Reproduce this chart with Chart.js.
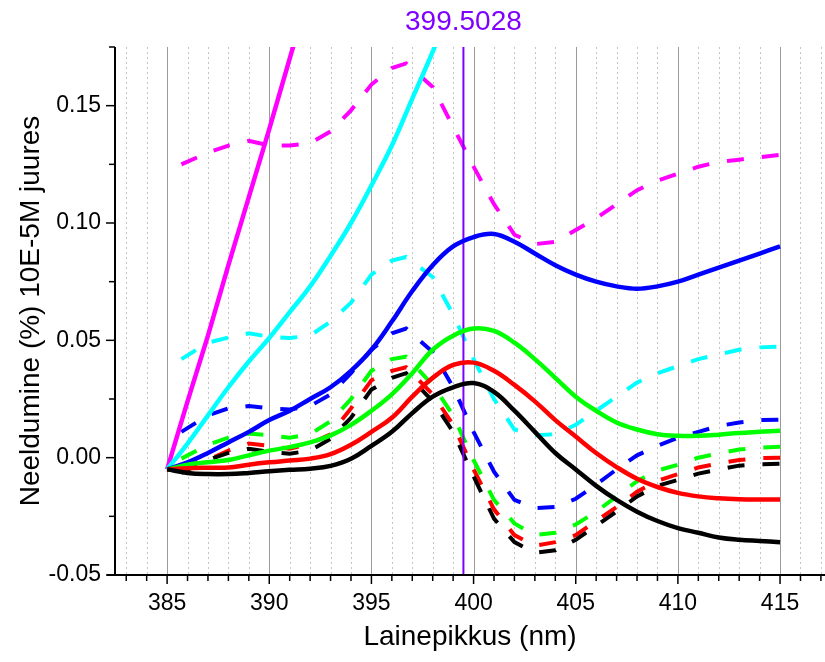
<!DOCTYPE html>
<html>
<head>
<meta charset="utf-8">
<script src="https://cdn.jsdelivr.net/npm/chart.js@4.4.0/dist/chart.umd.min.js"></script>
<style>
    body { margin: 0; background: #fff; }
    #wrap { width: 825px; height: 662px; position: relative; }
</style>
</head>
<body>
<div id="wrap"><canvas id="absChart"></canvas></div>
<script>
// Wavelengths (nm) for the smooth (solid) curves
const wlSolid = [385, 386, 387, 388, 389, 390, 391, 392, 393, 394, 395, 396, 397, 398, 399, 400,
    401, 402, 403, 404, 405, 406, 407, 408, 409, 410, 411, 412, 413, 414, 415];
// Wavelengths (nm) for the dashed curves
const wlDash = [385.7, 387, 388, 389, 390, 391, 392, 393, 394, 395, 396, 396.7, 398, 399, 400,
    401, 402, 403, 404, 405, 406, 407, 408, 409, 410, 411, 412, 413, 414, 415];

// Solid series
const magentaSolid = [-0.005, 0.024, 0.052, 0.082, 0.111, 0.140, 0.170, 0.200, 0.230];
const cyanSolid = [-0.005, 0.006, 0.018, 0.030, 0.041, 0.051, 0.062, 0.073, 0.086, 0.100, 0.116,
    0.133, 0.153, 0.173, 0.195, 0.220];
const blueSolid = [-0.005, -0.002, 0.002, 0.0065, 0.011, 0.016, 0.020, 0.025, 0.030, 0.037, 0.046,
    0.058, 0.071, 0.082, 0.090, 0.094, 0.0953, 0.092, 0.087, 0.082, 0.078, 0.075, 0.073, 0.072,
    0.073, 0.075, 0.078, 0.081, 0.084, 0.087, 0.090];
const greenSolid = [-0.005, -0.003, -0.002, -0.001, 0.001, 0.003, 0.0045, 0.0065, 0.0095, 0.014, 0.020,
    0.027, 0.036, 0.046, 0.052, 0.055, 0.054, 0.049, 0.042, 0.034, 0.026, 0.020, 0.015, 0.012,
    0.010, 0.0093, 0.0093, 0.0098, 0.0105, 0.011, 0.0115];
const redSolid = [-0.005, -0.0045, -0.0043, -0.0042, -0.003, -0.002, -0.0012, -0.0004, 0.0015, 0.0055, 0.011,
    0.017, 0.026, 0.034, 0.0395, 0.0405, 0.037, 0.031, 0.024, 0.016, 0.009, 0.002, -0.004, -0.009,
    -0.0125, -0.015, -0.0165, -0.0173, -0.0177, -0.0178, -0.0178];
const blackSolid = [-0.005, -0.0065, -0.007, -0.007, -0.0065, -0.0058, -0.0052, -0.0047, -0.0035, -0.0005, 0.005,
    0.011, 0.019, 0.026, 0.030, 0.0318, 0.028, 0.020, 0.011, 0.002, -0.005, -0.012, -0.018, -0.023,
    -0.027, -0.030, -0.032, -0.034, -0.035, -0.0355, -0.036];

// Dashed series
const magentaDash = [0.125, 0.130, 0.133, 0.135, 0.133, 0.133, 0.134, 0.139, 0.148, 0.159, 0.166, 0.168,
    0.158, 0.141, 0.124, 0.108, 0.095, 0.091, 0.092, 0.097, 0.102, 0.108, 0.114, 0.118, 0.121,
    0.124, 0.126, 0.127, 0.128, 0.129];
const cyanDash = [0.042, 0.049, 0.0512, 0.053, 0.0515, 0.051, 0.052, 0.058, 0.066, 0.078, 0.084, 0.0855,
    0.077, 0.061, 0.042, 0.025, 0.012, 0.0095, 0.010, 0.014, 0.020, 0.026, 0.032, 0.036, 0.039,
    0.042, 0.044, 0.046, 0.047, 0.0473];
const blueDash = [0.011, 0.018, 0.021, 0.022, 0.021, 0.0205, 0.022, 0.027, 0.036, 0.046, 0.053, 0.055,
    0.045, 0.030, 0.011, -0.006, -0.018, -0.0215, -0.021, -0.0175, -0.0115, -0.005, 0.001, 0.005, 0.0085,
    0.011, 0.0135, 0.015, 0.016, 0.0162];
const greenDash = [-0.0004, 0.0055, 0.0085, 0.0103, 0.0095, 0.0085, 0.010, 0.0155, 0.025, 0.037, 0.042, 0.043,
    0.031, 0.018, -0.001, -0.018, -0.028, -0.033, -0.032, -0.0285, -0.023, -0.0165, -0.010, -0.0055, -0.003,
    0.0, 0.0018, 0.0035, 0.0042, 0.0047];
const redDash = [-0.004, -0.001, 0.003, 0.006, 0.005, 0.0038, 0.006, 0.010, 0.021, 0.033, 0.037, 0.0385,
    0.027, 0.014, -0.005, -0.022, -0.033, -0.0375, -0.036, -0.033, -0.027, -0.021, -0.0145, -0.0098, -0.007,
    -0.0042, -0.0025, -0.001, -0.0002, 0.0];
const blackDash = [-0.0065, -0.001, 0.002, 0.0038, 0.0025, 0.0017, 0.003, 0.008, 0.017, 0.029, 0.034, 0.036,
    0.024, 0.011, -0.008, -0.026, -0.036, -0.0405, -0.0395, -0.035, -0.029, -0.023, -0.0165, -0.012, -0.0095,
    -0.0068, -0.005, -0.0034, -0.0028, -0.0026];

// Marker line
const markerWl = 399.5028;
const markerLabel = '399.5028';

const FONT = "'Liberation Sans', Arial, sans-serif";

function pts(xs, ys) {
    return ys.map((y, i) => ({ x: xs[i], y: y }));
}

function solid(color, ys) {
    return { data: pts(wlSolid, ys), borderColor: color, borderWidth: 4.5, tension: 0.4 };
}

function dashed(color, ys) {
    return { data: pts(wlDash, ys), borderColor: color, borderWidth: 4, borderDash: [17, 18], tension: 0 };
}

// Grid lines, tick marks and axis lines drawn by hand (major/minor styles differ)
const axesPlugin = {
    id: 'axesPlugin',
    beforeDatasetsDraw(chart) {
        const { ctx, chartArea, scales } = chart;
        const xs = scales.x;
        ctx.save();
        ctx.lineWidth = 1;
        for (let v = Math.ceil(xs.min); v <= xs.max; v++) {
            const px = Math.round(xs.getPixelForValue(v)) + 0.5;
            if (v % 5 === 0) {
                ctx.strokeStyle = '#9a9a9a';
                ctx.setLineDash([]);
            } else {
                ctx.strokeStyle = '#c4c4c4';
                ctx.setLineDash([2, 3]);
            }
            ctx.beginPath();
            ctx.moveTo(px, chartArea.top);
            ctx.lineTo(px, chartArea.bottom);
            ctx.stroke();
        }
        ctx.restore();
    },
    afterDraw(chart) {
        const { ctx, chartArea, scales } = chart;
        const xs = scales.x, ys = scales.y;
        ctx.save();
        ctx.strokeStyle = '#000';
        ctx.lineWidth = 1.5;
        ctx.setLineDash([]);
        // x ticks
        for (let v = Math.ceil(xs.min); v <= xs.max; v++) {
            const px = xs.getPixelForValue(v);
            const len = v % 5 === 0 ? 9 : 6;
            ctx.beginPath();
            ctx.moveTo(px, chartArea.bottom);
            ctx.lineTo(px, chartArea.bottom + len);
            ctx.stroke();
        }
        // y ticks
        for (let k = 0; k <= 9; k++) {
            const v = -0.05 + k * 0.025;
            const py = ys.getPixelForValue(v);
            const len = k % 2 === 0 ? 9 : 6;
            ctx.beginPath();
            ctx.moveTo(chartArea.left, py);
            ctx.lineTo(chartArea.left - len, py);
            ctx.stroke();
        }
        // axis lines
        ctx.lineWidth = 2;
        ctx.beginPath();
        ctx.moveTo(chartArea.left, chartArea.top);
        ctx.lineTo(chartArea.left, chartArea.bottom);
        ctx.moveTo(chartArea.left - 8, chartArea.bottom);
        ctx.lineTo(chart.width, chartArea.bottom);
        ctx.stroke();
        // marker label
        ctx.fillStyle = '#8000ff';
        ctx.font = '28px ' + FONT;
        ctx.textAlign = 'center';
        ctx.textBaseline = 'middle';
        ctx.fillText(markerLabel, xs.getPixelForValue(markerWl), 22);
        ctx.restore();
    }
};

const datasets = [
    solid('#000000', blackSolid),
    solid('#ff0000', redSolid),
    solid('#00ff00', greenSolid),
    solid('#0000ff', blueSolid),
    solid('#00ffff', cyanSolid),
    { data: pts(wlSolid, magentaSolid), borderColor: '#ff00ff', borderWidth: 4.5, tension: 0 },
    { data: [{ x: markerWl, y: -0.05 }, { x: markerWl, y: 0.175 }], borderColor: '#8000ff', borderWidth: 2 },
    dashed('#000000', blackDash),
    dashed('#ff0000', redDash),
    dashed('#00ff00', greenDash),
    dashed('#0000ff', blueDash),
    dashed('#00ffff', cyanDash),
    dashed('#ff00ff', magentaDash)
];

new Chart(document.getElementById('absChart'), {
    type: 'line',
    data: { datasets: datasets },
    options: {
        responsive: true,
        maintainAspectRatio: false,
        animation: false,
        layout: { padding: { top: 47, right: 0, bottom: 0, left: 0 } },
        elements: { point: { radius: 0 }, line: { fill: false } },
        plugins: { legend: { display: false }, tooltip: { enabled: false } },
        scales: {
            x: {
                type: 'linear',
                min: 382.45,
                max: 417.2,
                grid: { display: false, drawTicks: false },
                border: { display: false },
                ticks: {
                    stepSize: 1,
                    autoSkip: false,
                    maxRotation: 0,
                    includeBounds: false,
                    padding: 15,
                    color: '#000',
                    font: { family: FONT, size: 23 },
                    callback: v => (Math.abs(v % 5) < 1e-6 ? String(v) : '')
                },
                title: {
                    display: true,
                    text: 'Lainepikkus (nm)',
                    color: '#000',
                    font: { family: FONT, size: 28 },
                    padding: { top: 0, bottom: 8 }
                },
                afterFit: s => { s.height = 87; s.paddingLeft = 0; s.paddingRight = 0; }
            },
            y: {
                type: 'linear',
                min: -0.05,
                max: 0.175,
                grid: { display: false, drawTicks: false },
                border: { display: false },
                ticks: {
                    stepSize: 0.05,
                    includeBounds: false,
                    padding: 14,
                    color: '#000',
                    font: { family: FONT, size: 23 },
                    callback: v => v.toFixed(2)
                },
                title: {
                    display: true,
                    text: 'Neeldumine (%) 10E-5M juures',
                    color: '#000',
                    font: { family: FONT, size: 28 },
                    padding: { top: 14, bottom: 0 }
                },
                afterFit: s => { s.width = 115; s.paddingTop = 0; s.paddingBottom = 0; }
            }
        }
    },
    plugins: [axesPlugin]
});
</script>
</body>
</html>
